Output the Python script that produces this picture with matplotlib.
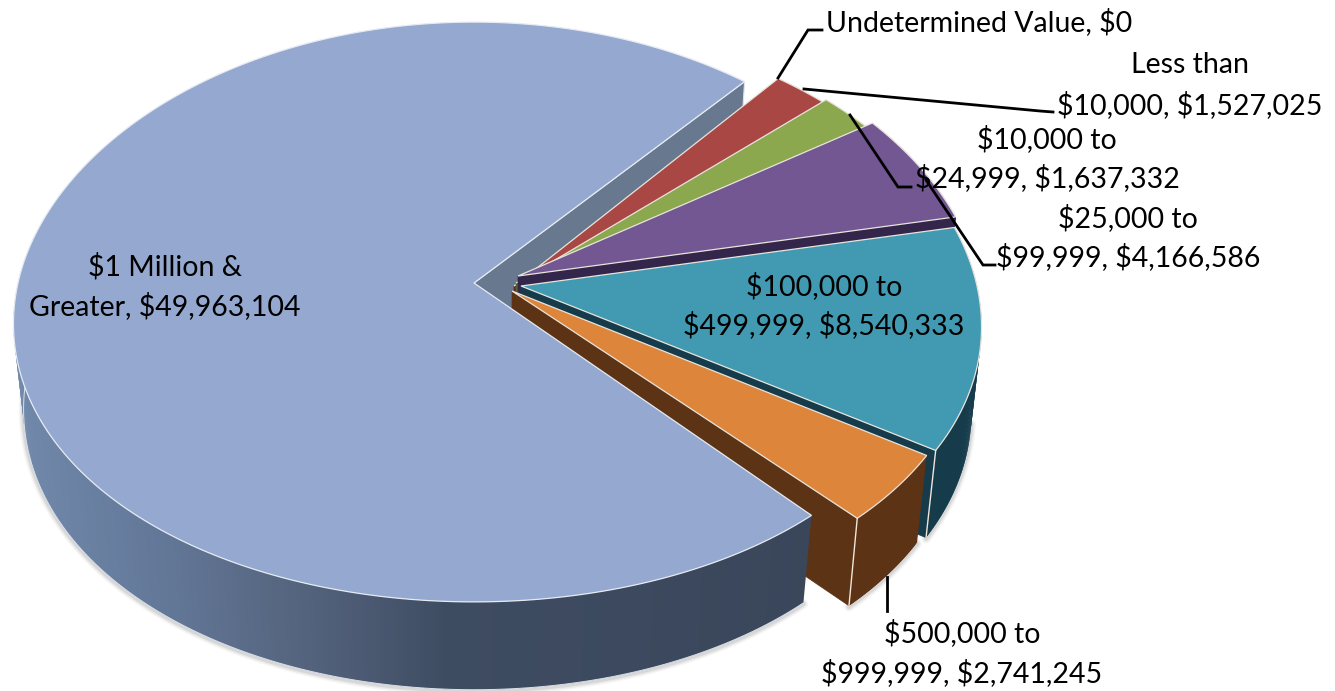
import numpy as np
import matplotlib
matplotlib.use("Agg")
import matplotlib.pyplot as plt
from matplotlib.patches import Polygon
from matplotlib.colors import to_rgb

# ---------- Data ----------
categories = ["Less than $10,000", "$10,000 to $24,999", "$25,000 to $99,999",
              "$100,000 to $499,999", "$500,000 to $999,999", "$1 Million & Greater"]
values = [1527025, 1637332, 4166586, 8540333, 2741245, 49963104]

label_lines = [
    ["Less than", "$10,000, $1,527,025"],
    ["$10,000 to", "$24,999, $1,637,332"],
    ["$25,000 to", "$99,999, $4,166,586"],
    ["$100,000 to", "$499,999, $8,540,333"],
    ["$500,000 to", "$999,999, $2,741,245"],
    ["$1 Million &", "Greater, $49,963,104"],
]
undetermined_label = "Undetermined Value, $0"

# ---------- Style ----------
top_colors = ["#A94744", "#8BA84F", "#725792", "#419AB1", "#DE853C", "#94A8D0"]
wall_colors = ["#5E2A28", "#4F6530", "#33264A", "#163C4B", "#5C3315", "#67788F"]
# pie centre and radius factor of every slice (the pieces sit a little apart)
centers = [(514, 286), (516, 283), (518, 276), (521, 286), (512, 291), (474, 283)]
radius = [1.01, 1.01, 1.01, 1.0, 1.0, 1.0]
START_ANGLE = 50.5
RX, RY = 456, 287
KX, KY = 0.14, 0.10
DEPTH, SHRINK = 88, 0.022
FONT = ["Lato", "DejaVu Sans"]
FONT_SIZE = 20.5


def project(center, r, angle, z=0.0):
    """Pie plane -> picture, with the back of the pie further away."""
    a = np.radians(angle)
    u, v = r * np.cos(a), r * np.sin(a)
    x = center[0] + RX * u / (1 + KX * v + SHRINK * z)
    y = center[1] + (-RY * v + DEPTH * z) / (1 + KY * v + SHRINK * z)
    return np.column_stack([x, y])


def blend(c1, c2, t):
    c1, c2 = np.array(to_rgb(c1)), np.array(to_rgb(c2))
    return tuple(c1 + (c2 - c1) * t)


def draw_outer_wall(ax, center, r, a0, a1, shade, zorder):
    """Outer rim, split in short overlapping pieces so that it can carry a gradient."""
    angles = np.linspace(a0, a1, int(abs(a1 - a0) * 2) + 3)
    top = project(center, r, angles)
    low = project(center, r, angles, 1.0)
    for i in range(len(angles) - 1):
        j = min(i + 2, len(angles) - 1)
        pts = [top[i], top[j], low[j], low[i]]
        ax.add_patch(Polygon(pts, closed=True, facecolor=shade(top[i][0]),
                             edgecolor="none", zorder=zorder))


def big_shade(x):
    stops_x = [10, 150, 300, 450, 820]
    c = ["#7189AB", "#64799A", "#55647E", "#3E4C62", "#3A465A"]
    j = np.searchsorted(stops_x, x) - 1
    j = int(np.clip(j, 0, len(c) - 2))
    t = np.clip((x - stops_x[j]) / (stops_x[j + 1] - stops_x[j]), 0, 1)
    return blend(c[j], c[j + 1], t)


def esc(text):
    return text.replace("$", r"\$")


fig = plt.figure(figsize=(13.35, 6.91), dpi=100)
ax = fig.add_axes([0, 0, 1, 1])
ax.set_xlim(0, 1335)
ax.set_ylim(691, 0)
ax.axis("off")

# slice angles come straight from the values, clockwise
sweep = np.array(values) / sum(values) * 360
ends = START_ANGLE - np.cumsum(sweep)
starts = ends + sweep

# upper cut wall of the big slice shows through the notch
big = 5
apex = project(centers[big], 0, 0)[0]
apex_low = project(centers[big], 0, 0, 1.0)[0]
big_a0 = starts[big] - 1.3
big_a1 = ends[big] - 1.5
edge = project(centers[big], 1, big_a1 + 360)[0]
edge_low = project(centers[big], 1, big_a1 + 360, 1.0)[0]
ax.add_patch(Polygon([apex, edge, edge_low, apex_low], closed=True,
                     facecolor=wall_colors[big], edgecolor="#DDE3EC", lw=0.8, zorder=1))

# small slices, back to front
for i in range(5):
    c, r = centers[i], radius[i]
    p0 = project(c, 0, 0)[0]
    p0_low = project(c, 0, 0, 1.0)[0]
    end_top = project(c, r, ends[i])[0]
    end_low = project(c, r, ends[i], 1.0)[0]
    z = 2 + i * 3
    ax.add_patch(Polygon([p0, end_top, end_low, p0_low], closed=True,
                         facecolor=wall_colors[i], edgecolor=wall_colors[i], lw=0.5, zorder=z))
    col = wall_colors[i]
    draw_outer_wall(ax, c, r, starts[i], ends[i], lambda x, col=col: col, z)
    arc = project(c, r, np.linspace(starts[i], ends[i], 60))
    ax.add_patch(Polygon(np.vstack([p0, arc]), closed=True, facecolor=top_colors[i],
                         edgecolor="#E8E4DC", lw=0.9, zorder=z + 1))

# pale edges on the front corners
for i in (3, 4):
    c, r = centers[i], radius[i]
    line = np.vstack([project(c, r, ends[i]), project(c, r, ends[i], 1.0)])
    ax.plot(line[:, 0], line[:, 1], color="#F0E6DA", lw=1.0, zorder=20)

# soft shadow under the rim
low_rim = project(centers[big], 1, np.linspace(big_a0, -178, 200), 1.0)
small_rim = project(centers[4], radius[4], np.linspace(starts[4], ends[4], 30), 1.0)
teal_rim = project(centers[3], radius[3], np.linspace(ends[3], -10, 30), 1.0)
for rim in (low_rim, small_rim, teal_rim):
    for lw, alpha in [(7, 0.05), (5, 0.08), (3, 0.12)]:
        ax.plot(rim[:, 0], rim[:, 1] + 1, color="#555555", lw=lw, alpha=alpha,
                solid_capstyle="round", zorder=0.5)

# big slice wall and top go on last
draw_outer_wall(ax, centers[big], 1, big_a0, -190, big_shade, 30)
arc = project(centers[big], 1, np.linspace(big_a0, big_a1, 300))
ax.add_patch(Polygon(np.vstack([apex, arc]), closed=True, facecolor=top_colors[big],
                     edgecolor="#E6EBF3", lw=0.9, zorder=31))
wall_edge = project(centers[big], 1, np.linspace(big_a0, -178, 200), 1.0)
ax.plot(wall_edge[:, 0], wall_edge[:, 1], color="#DDE3EC", lw=0.7, zorder=30.5)

# ---------- Leader lines ----------
leaders = [
    ([778, 808, 822], [78, 30, 30]),
    ([804, 1040, 1053], [89, 111, 112]),
    ([850, 898, 911], [115, 187, 187]),
    ([926, 983, 995], [180, 265, 265]),
    ([887, 887], [577, 611]),
]
for xs, ys in leaders:
    ax.plot(xs, ys, color="black", lw=2.0, zorder=40, solid_joinstyle="miter")

# ---------- Labels ----------
label_pos = [(1190, 65, 105), (1047, 139, 178), (1128, 218, 257),
             (824, 286, 325), (962, 633, 673), (165, 267, 306)]
for lines, (x, y0, y1) in zip(label_lines, label_pos):
    for text, y in zip(lines, (y0, y1)):
        ax.text(x, y, esc(text), ha="center", va="center", family=FONT,
                fontsize=FONT_SIZE, color="black", zorder=50)
ax.text(826, 22, esc(undetermined_label), ha="left", va="center", family=FONT,
        fontsize=FONT_SIZE, color="black", zorder=50)

fig.savefig("out.png", dpi=100)
